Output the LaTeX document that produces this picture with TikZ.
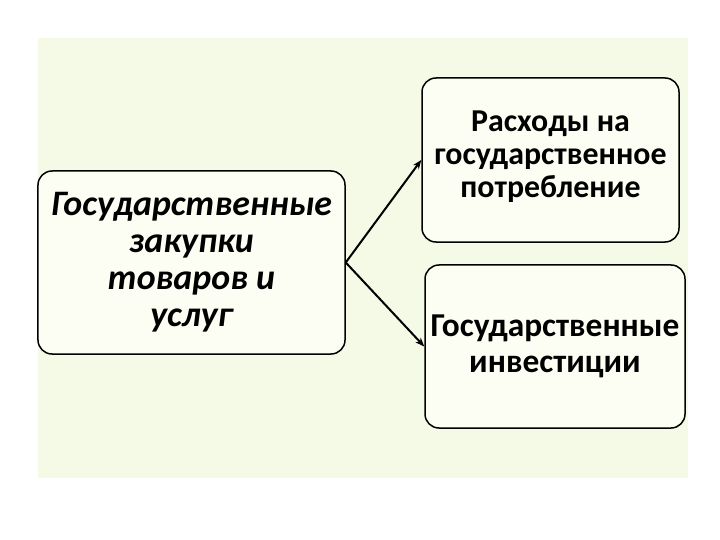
\documentclass[tikz,border=0pt]{standalone}
\usepackage{fontspec}
\setmainfont{Carlito}
\usetikzlibrary{arrows.meta,positioning}
\definecolor{PanelGreen}{RGB}{245,250,230}
\definecolor{BoxCream}{RGB}{253,254,243}

\begin{document}
\begin{tikzpicture}[
    x=1bp, y=-1bp,
    box/.style={draw=black, line width=1.5bp, rectangle, rounded corners=14bp, fill=BoxCream, align=center, inner sep=0pt},
    arrow/.style={-{Stealth[length=9bp,width=7bp]}, line width=2bp, black}
  ]
    \useasboundingbox (0,0) rectangle (720,540);
    \fill[PanelGreen] (38,38) rectangle (688,478);

    \node[box, minimum width=307bp, minimum height=183bp, font=\bfseries\itshape\fontsize{36}{37}\selectfont, text depth=6bp] (purchases) at (191.5,262.5) {Государственные\\закупки\\товаров и\\услуг};
    \node[box, minimum width=257bp, minimum height=164bp, font=\bfseries\fontsize{32}{33}\selectfont, text depth=12bp] (consumption) at (550.5,160) {Расходы на\\государственное\\потребление};
    \node[box, minimum width=260bp, minimum height=163bp, font=\bfseries\fontsize{33.5}{36}\selectfont] (investment) at (555,346.5) {Государственные\\инвестиции};

    \draw[arrow] (purchases.east) -- (consumption.west);
    \draw[arrow] (purchases.east) -- (investment.west);
  \end{tikzpicture}
\end{document}
